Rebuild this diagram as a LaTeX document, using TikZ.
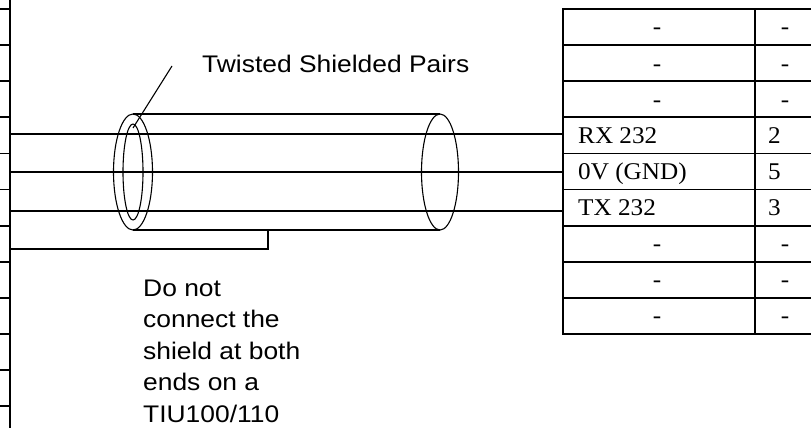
\documentclass[tikz,border=0pt]{standalone}
\usepackage{fontspec}
\setmainfont{Liberation Serif}
\newfontfamily\arialx[FakeStretch=1.1]{Liberation Sans}
\newfontfamily\timesx[FakeStretch=1.05]{Liberation Serif}
\begin{document}
\begin{tikzpicture}[x=1pt,y=-1pt,
  tbl/.style={line width=1.8pt},
  wire/.style={line width=1.4pt},
  cable/.style={line width=1.1pt},
  label/.style={font=\arialx\fontsize{24}{31.5}\selectfont, inner sep=0pt},
  cell/.style={font=\timesx\fontsize{24}{28}\selectfont, inner sep=0pt}]
\useasboundingbox (0,0) rectangle (811,428);
% left border table edge with ticks
\draw[tbl] (10,0) -- (10,428);
\foreach \k in {0,...,11} \draw[tbl] (0,{9+36.1*\k}) -- (10,{9+36.1*\k});
% right table
\foreach \k in {0,...,9} \draw[tbl] (562,{9+36.1*\k}) -- (812,{9+36.1*\k});
\draw[tbl] (563,9) -- (563,333.9);
\draw[tbl] (755,9) -- (755,333.9);
% table cells
\foreach \k in {0,1,2,6,7,8} {
  \node[cell, anchor=base] (c1-\k) at (657,{9+36.1*\k+26}) {-};
  \node[cell, anchor=base] (c2-\k) at (785,{9+36.1*\k+26}) {-};
}
\node[cell, anchor=base west] (rx) at (578,{9+36.1*3+26}) {RX 232};
\node[cell, anchor=base west] (gnd) at (578,{9+36.1*4+26}) {0V (GND)};
\node[cell, anchor=base west] (tx) at (578,{9+36.1*5+26}) {TX 232};
\node[cell, anchor=base west] (p2) at (768,{9+36.1*3+26}) {2};
\node[cell, anchor=base west] (p5) at (768,{9+36.1*4+26}) {5};
\node[cell, anchor=base west] (p3) at (768,{9+36.1*5+26}) {3};
% cable
\draw[cable] (133,172) ellipse [x radius=19.5, y radius=58];
\draw[cable] (133,172) ellipse [x radius=10, y radius=48];
\draw[cable] (440,172) ellipse [x radius=18.5, y radius=58];
\draw[cable] (133,114) -- (440,114);
\draw[cable] (133,230) -- (440,230);
% wires
\coordinate (l1) at (10,134); \coordinate (r1) at (563,134);
\coordinate (l2) at (10,172); \coordinate (r2) at (563,172);
\coordinate (l3) at (10,211); \coordinate (r3) at (563,211);
\coordinate (l4) at (10,249); \coordinate (sh) at (268,230);
\draw[wire] (l1) -- (r1);
\draw[wire] (l2) -- (r2);
\draw[wire] (l3) -- (r3);
\draw[wire] (l4) -| (sh);
% label and leader
\node[label, anchor=base west] (tsp) at (202,72) {Twisted Shielded Pairs};
\coordinate (ld1) at (172,66); \coordinate (ld2) at (133,128);
\draw[cable] (ld1) -- (ld2);
\node[label, anchor=north west, align=left] (note) at (143,279.5) {Do not\\connect the\\shield at both\\ends on a\\TIU100/110};
\end{tikzpicture}
\end{document}
